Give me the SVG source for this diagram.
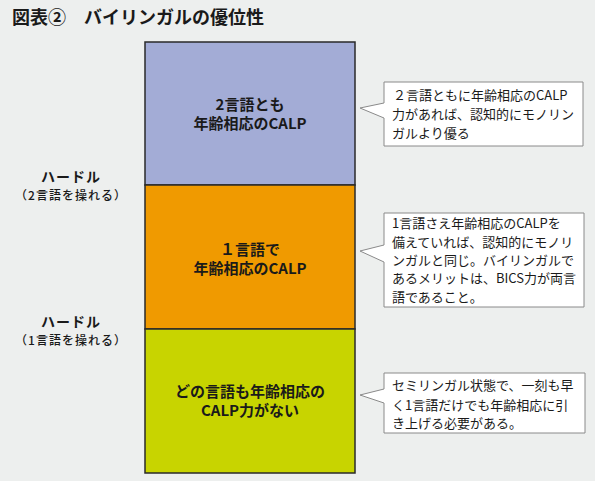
<svg xmlns="http://www.w3.org/2000/svg" width="595" height="481" viewBox="0 0 595 481">
<style>
text{font-family:"Noto Sans CJK JP","Noto Sans",sans-serif;fill:#1a1a1a}
.title{font-size:18px;font-weight:700}
.lbl{font-size:14px;font-weight:700;text-anchor:middle;letter-spacing:1px}
.sub{font-size:12px;font-weight:500;text-anchor:middle;letter-spacing:1px}
.blk{font-size:15px;font-weight:700;text-anchor:middle}
.blkr{stroke:#2a2a2a;stroke-width:1.5}
.call{fill:#fff;stroke:#8a8a8a;stroke-width:1}
.ct{font-size:13px;font-weight:400}
</style>
<rect width="595" height="481" fill="#edefee"/>
<text class="title" x="12" y="24">図表②</text>
<text class="title" x="84" y="24">バイリンガルの優位性</text>
<g id="label-hurdle2">
<text class="lbl" x="71" y="182">ハードル</text>
<text class="sub" x="71" y="200">（2言語を操れる）</text>
</g>
<g id="label-hurdle1">
<text class="lbl" x="71" y="327">ハードル</text>
<text class="sub" x="71" y="345">（1言語を操れる）</text>
</g>
<g id="block-top">
<rect class="blkr" x="145" y="42" width="210" height="143" fill="#a3acd6"/>
<text class="blk" x="250" y="110">2言語とも</text>
<text class="blk" x="250" y="129">年齢相応のCALP</text>
</g>
<g id="block-mid">
<rect class="blkr" x="145" y="185" width="210" height="144" fill="#f09a00"/>
<text class="blk" x="250" y="255">１言語で</text>
<text class="blk" x="250" y="274">年齢相応のCALP</text>
</g>
<g id="block-bottom">
<rect class="blkr" x="145" y="329" width="210" height="144" fill="#c8d400"/>
<text class="blk" x="250" y="397">どの言語も年齢相応の</text>
<text class="blk" x="250" y="416">CALP力がない</text>
</g>
<g id="callout-1">
<path class="call" d="M384,82 H583 V146 H384 V118 L360,108 L384,103 Z"/>
<text class="ct" x="393" y="100">２言語ともに年齢相応のCALP</text>
<text class="ct" x="392" y="119">力があれば、認知的にモノリン</text>
<text class="ct" x="392" y="138">ガルより優る</text>
</g>
<g id="callout-2">
<path class="call" d="M384,213 H584 V307 H384 V262 L360,251 L384,245 Z"/>
<text class="ct" x="392" y="228">1言語さえ年齢相応のCALPを</text>
<text class="ct" x="392" y="247">備えていれば、認知的にモノリ</text>
<text class="ct" x="392" y="265">ンガルと同じ。バイリンガルで</text>
<text class="ct" x="392" y="283">あるメリットは、BICS力が両言</text>
<text class="ct" x="392" y="302">語であること。</text>
</g>
<g id="callout-3">
<path class="call" d="M384,373 H585 V433 H384 V403 L360,395 L384,389 Z"/>
<text class="ct" x="392" y="390">セミリンガル状態で、一刻も早</text>
<text class="ct" x="392" y="410">く1言語だけでも年齢相応に引</text>
<text class="ct" x="392" y="428">き上げる必要がある。</text>
</g>
<g id="connectors"></g>
</svg>
